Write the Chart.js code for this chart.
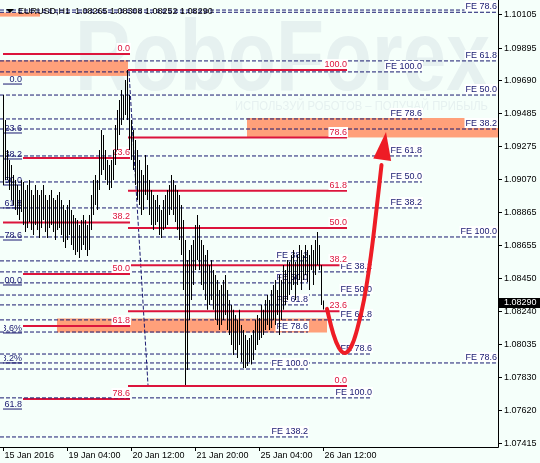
<!DOCTYPE html>
<html>
<head>
<meta charset="utf-8">
<script src="https://cdn.jsdelivr.net/npm/chart.js@4.4.1/dist/chart.umd.min.js"></script>
<style>
html,body{margin:0;padding:0;background:#f5fffa;overflow:hidden}
canvas{display:block}
</style>
</head>
<body>
<canvas id="chart" width="540" height="463" style="width:540px;height:463px"></canvas>
<script>
// ---------- DATA ----------
const symbolHeader = 'EURUSD,H1  1.08265 1.08308 1.08252 1.08290';
const lastPrice = 1.08290;
const watermarkTitle = 'RoboForex';
const watermarkSub = 'ИСПОЛЬЗУЙ РОБОТОВ – ПОЛУЧАЙ ПРИБЫЛЬ';

const timeTickBars = [0, 32, 64, 96, 128, 160];
const timeTickLabels = ['15 Jan 2016', '19 Jan 04:00', '20 Jan 12:00', '21 Jan 20:00', '25 Jan 04:00', '26 Jan 12:00'];
const priceTicks = [1.10105, 1.09895, 1.09690, 1.09485, 1.09275, 1.09070, 1.08865, 1.08655, 1.08450, 1.08240, 1.08035, 1.07830, 1.07620, 1.07415];

// hourly bars (index 0 = first visible bar)
const barHigh = [
1.09597,1.09441,1.09253,1.09190,1.09158,1.09096,1.09064,1.09033,1.09002,1.09064,
1.09052,1.09002,1.09033,1.09064,1.09002,1.08970,1.09033,1.09002,1.08970,1.09002,
1.09033,1.08970,1.08939,1.08970,1.09002,1.08952,1.08939,1.08970,1.08989,1.08939,
1.08908,1.08876,1.08908,1.08939,1.08876,1.08845,1.08826,1.08814,1.08782,1.08814,
1.08845,1.08814,1.08782,1.08845,1.08970,1.09064,1.09096,1.09064,1.09253,1.09378,
1.09347,1.09253,1.09190,1.09158,1.09190,1.09253,1.09409,1.09503,1.09566,1.09629,
1.09597,1.09691,1.09754,1.09597,1.09441,1.09378,1.09315,1.09253,1.09190,1.09127,
1.09096,1.09221,1.09158,1.09064,1.09002,1.08970,1.08939,1.08970,1.08908,1.08876,
1.08939,1.08970,1.09002,1.09033,1.09096,1.09064,1.09033,1.09002,1.08970,1.08908,
1.08814,1.08688,1.08563,1.08626,1.08657,1.08688,1.08782,1.08845,1.08782,1.08688,
1.08657,1.08594,1.08626,1.08531,1.08563,1.08500,1.08469,1.08437,1.08375,1.08406,
1.08437,1.08469,1.08375,1.08312,1.08281,1.08250,1.08218,1.08187,1.08250,1.08155,
1.08124,1.08093,1.08061,1.08074,1.08093,1.08124,1.08187,1.08218,1.08199,1.08281,
1.08250,1.08312,1.08343,1.08312,1.08375,1.08406,1.08437,1.08375,1.08469,1.08437,
1.08531,1.08500,1.08563,1.08550,1.08594,1.08626,1.08550,1.08594,1.08657,1.08626,
1.08594,1.08657,1.08626,1.08594,1.08657,1.08626,1.08688,1.08738,1.08657,1.08531,
1.08308];
const barLow = [
1.09033,1.09064,1.09064,1.09002,1.08939,1.08908,1.08876,1.08845,1.08814,1.08864,
1.08782,1.08738,1.08763,1.08801,1.08751,1.08720,1.08782,1.08751,1.08701,1.08763,
1.08814,1.08738,1.08701,1.08763,1.08782,1.08738,1.08688,1.08751,1.08763,1.08720,
1.08676,1.08638,1.08688,1.08720,1.08657,1.08626,1.08594,1.08613,1.08575,1.08626,
1.08657,1.08626,1.08588,1.08626,1.08751,1.08845,1.08908,1.08876,1.09002,1.09096,
1.09127,1.09064,1.09033,1.09002,1.09014,1.09064,1.09158,1.09253,1.09347,1.09409,
1.09441,1.09472,1.09441,1.09253,1.09190,1.09127,1.09033,1.08939,1.08908,1.08845,
1.08876,1.08970,1.08939,1.08845,1.08782,1.08751,1.08782,1.08801,1.08720,1.08701,
1.08751,1.08763,1.08782,1.08845,1.08876,1.08845,1.08801,1.08751,1.08688,1.08594,
1.08375,1.07779,1.07873,1.08187,1.08312,1.08406,1.08500,1.08563,1.08500,1.08406,
1.08375,1.08312,1.08250,1.08281,1.08312,1.08250,1.08187,1.08155,1.08124,1.08155,
1.08187,1.08218,1.08124,1.08093,1.08030,1.07967,1.07998,1.07948,1.08030,1.07923,
1.07886,1.07886,1.07898,1.07923,1.07907,1.07936,1.07998,1.08030,1.08061,1.08074,
1.08093,1.08124,1.08155,1.08124,1.08136,1.08187,1.08155,1.08218,1.08093,1.08187,
1.08250,1.08281,1.08312,1.08343,1.08375,1.08406,1.08312,1.08406,1.08437,1.08375,
1.08437,1.08469,1.08425,1.08375,1.08500,1.08406,1.08469,1.08531,1.08500,1.08281,
1.08252];

// Fibonacci retracement (left, crimson)
const fibLeftLevels = [1.09854, 1.09202, 1.08798, 1.08475, 1.08149, 1.07691];
const fibLeftNames  = ['0.0', '23.6', '38.2', '50.0', '61.8', '78.6'];
const fibLeftFrom   = [-0.25, 9.75, -0.25, 9.75, 9.75, 9.75];
const fibLeftTo     = 63.25;
// Fibonacci retracement (right, crimson)
const fibRightLevels = [1.09754, 1.09330, 1.08997, 1.08764, 1.08530, 1.08241, 1.07773];
const fibRightNames  = ['100.0', '78.6', '61.8', '50.0', '38.2', '23.6', '0.0'];
const fibRightFrom   = 62.25;
const fibRightTo     = 171.75;
// Fibonacci expansions (navy dashed)
const feLevels = [1.10130, 1.10116, 1.09811, 1.09742, 1.09597, 1.09447, 1.09384, 1.09215, 1.09052, 1.08889, 1.08707,
                  1.08557, 1.08488, 1.08419, 1.08343, 1.08281, 1.08187, 1.08111, 1.07973, 1.07917, 1.07879, 1.07698, 1.07453];
const feNames  = ['', 'FE 78.6', 'FE 61.8', 'FE 100.0', 'FE 50.0', 'FE 78.6', 'FE 38.2', 'FE 61.8', 'FE 50.0', 'FE 38.2', 'FE 100.0',
                  'FE 38.2', 'FE 38.2', 'FE 50.0', 'FE 50.0', 'FE 61.8', 'FE 61.8', 'FE 78.6', 'FE 78.6', 'FE 78.6', 'FE 100.0', 'FE 100.0', 'FE 138.2'];
const feTo     = [246.75, 246.75, 246.75, 209.25, 246.75, 209.25, 246.75, 209.25, 209.25, 209.25, 246.75,
                  152.25, 184.25, 152.25, 184.25, 152.25, 184.25, 152.25, 184.25, 246.75, 152.25, 184.25, 152.25];
const feFrom = -1.75;
// Off-screen fibo (navy, left edge)
const navyLevels = [1.09666, 1.09359, 1.09196, 1.09033, 1.08889, 1.08688, 1.08406, 1.08105, 1.07917, 1.07628];
const navyNames  = ['0.0', '23.6', '38.2', '50.0', '61.8', '78.6', '100.0', '123.6%', '138.2%', '161.8'];
const navyFrom = -0.25, navyTo = 9.25;
// Salmon zones
const zoneFrom   = [-1.75, -1.75, 121.75, 26.75];
const zoneTo     = [18.25, 62.25, 247.25, 161.75];
const zoneTop    = [1.10114, 1.09815, 1.09453, 1.08196];
const zoneBottom = [1.10089, 1.09717, 1.09331, 1.08108];
// trend line
const trendX = [62.75, 72.25];
const trendY = [1.09741, 1.07779];
// forecast arrow
const arrowX = [161.75, 164.75, 167.75, 170.75, 173.75, 176.75, 180.25, 183.75, 186.75, 189.0];
const arrowY = [1.08256, 1.08106, 1.08011, 1.07980, 1.08017, 1.08124, 1.08312, 1.08594, 1.08908, 1.09158];
const arrowTip = [191.25, 1.09365];

// ---------- STYLE ----------
const FONT = '9px "Liberation Sans", Arial, sans-serif';
const NAVY = '#191970', CRIMSON = '#dc143c', SALMON = '#ffa07a', BG = '#f5fffa', ARROW = '#ee1c25';

// ---------- DATASETS ----------
const datasets = [];
datasets.push({
  type: 'bar',
  data: barHigh.map((h, i) => ({ x: i, y: [barLow[i], h] })),
  backgroundColor: '#000', borderWidth: 0, barThickness: 1, inflateAmount: 0, order: 1
});
function hline(x1, x2, y, color, width, dash) {
  datasets.push({ type: 'line', data: [{ x: x1, y: y }, { x: x2, y: y }], borderColor: color, borderWidth: width,
    borderDash: dash || [], pointRadius: 0, tension: 0, order: 2 });
}
feLevels.forEach((l, i) => hline(feFrom, feTo[i], l, NAVY, 1, [4, 2]));
navyLevels.forEach(l => hline(navyFrom, navyTo, l, NAVY, 1));
fibLeftLevels.forEach((l, i) => hline(fibLeftFrom[i], fibLeftTo, l, CRIMSON, 2));
fibRightLevels.forEach(l => hline(fibRightFrom, fibRightTo, l, CRIMSON, 2));
datasets.push({ type: 'line', data: trendX.map((x, i) => ({ x: x, y: trendY[i] })), borderColor: NAVY, borderWidth: 1,
  borderDash: [4, 2], pointRadius: 0, tension: 0, order: 2 });
datasets.push({ type: 'line', data: arrowX.map((x, i) => ({ x: x, y: arrowY[i] })), borderColor: ARROW, borderWidth: 4,
  pointRadius: 0, tension: 0.4, borderCapStyle: 'round', order: 0 });

// ---------- PLUGINS ----------
function P(chart, x, y) { return [chart.scales.x.getPixelForValue(x), chart.scales.y.getPixelForValue(y)]; }

const backPlugin = {
  id: 'back',
  beforeDraw(chart) {
    const ctx = chart.ctx;
    ctx.save();
    ctx.fillStyle = BG; ctx.fillRect(0, 0, chart.width, chart.height);
    ctx.fillStyle = '#e6f1f0';
    ctx.font = 'bold 100px "Liberation Sans", Arial';
    const w = ctx.measureText(watermarkTitle).width;
    ctx.save(); ctx.translate(75, 90); ctx.scale(415 / w, 1); ctx.fillText(watermarkTitle, 0, 0); ctx.restore();
    ctx.font = '12px "Liberation Sans", Arial';
    const w2 = ctx.measureText(watermarkSub).width;
    ctx.save(); ctx.translate(235, 110); ctx.scale(253 / w2, 1); ctx.fillText(watermarkSub, 0, 0); ctx.restore();
    ctx.restore();
  },
  beforeDatasetsDraw(chart) {
    const ctx = chart.ctx;
    ctx.save();
    ctx.fillStyle = SALMON;
    zoneFrom.forEach((f, i) => {
      const [x1, y1] = P(chart, f, zoneTop[i]);
      const [x2, y2] = P(chart, zoneTo[i], zoneBottom[i]);
      ctx.fillRect(x1, y1, x2 - x1, y2 - y1);
    });
    ctx.restore();
  }
};

function boxedText(ctx, text, xr, ly, color) {
  if (!text) return;
  const w = ctx.measureText(text).width;
  const base = Math.round(ly) - 3;
  ctx.fillStyle = '#ffffff';
  ctx.fillRect(xr - w - 1, base - 8, w + 2, 10);
  ctx.fillStyle = color;
  ctx.fillText(text, xr, base);
}

const labelPlugin = {
  id: 'labels',
  beforeDatasetDraw(chart, args) {
    if (args.index !== 0) return;
    const ctx = chart.ctx;
    ctx.save();
    ctx.font = FONT; ctx.textAlign = 'right'; ctx.textBaseline = 'alphabetic';
    feLevels.forEach((l, i) => { const [x, y] = P(chart, feTo[i], l); boxedText(ctx, feNames[i], x, y, NAVY); });
    fibLeftLevels.forEach((l, i) => { const [x, y] = P(chart, fibLeftTo, l); boxedText(ctx, fibLeftNames[i], x, y, CRIMSON); });
    fibRightLevels.forEach((l, i) => { const [x, y] = P(chart, fibRightTo, l); boxedText(ctx, fibRightNames[i], x, y, CRIMSON); });
    ctx.save();
    ctx.beginPath(); ctx.rect(4, 0, 100, chart.height); ctx.clip();
    ctx.fillStyle = NAVY;
    navyLevels.forEach((l, i) => { const [x, y] = P(chart, navyTo, l); ctx.fillText(navyNames[i], x, Math.round(y) - 2); });
    ctx.restore();
    ctx.restore();
  },
  afterDatasetsDraw(chart) {
    const ctx = chart.ctx;
    const [bx, by] = P(chart, arrowX[arrowX.length - 1], arrowY[arrowY.length - 1]);
    const [tx, ty] = P(chart, arrowTip[0], arrowTip[1]);
    const dx = tx - bx, dy = ty - by, L = Math.hypot(dx, dy);
    const nx = -dy / L, ny = dx / L, hw = 9;
    const b2x = tx - dx / L * 28, b2y = ty - dy / L * 28;
    ctx.save();
    ctx.fillStyle = ARROW;
    ctx.beginPath();
    ctx.moveTo(tx, ty);
    ctx.lineTo(b2x + nx * hw, b2y + ny * hw);
    ctx.lineTo(b2x - nx * hw, b2y - ny * hw);
    ctx.closePath(); ctx.fill();
    ctx.restore();
  }
};

const axisPlugin = {
  id: 'axes',
  afterDraw(chart) {
    const ctx = chart.ctx, ca = chart.chartArea;
    ctx.save();
    ctx.strokeStyle = '#000'; ctx.lineWidth = 1;
    ctx.beginPath();
    ctx.moveTo(ca.right + 0.5, 0); ctx.lineTo(ca.right + 0.5, ca.bottom + 0.5); ctx.lineTo(0, ca.bottom + 0.5);
    ctx.stroke();
    ctx.font = FONT; ctx.fillStyle = '#000'; ctx.textBaseline = 'middle'; ctx.textAlign = 'left';
    priceTicks.forEach(v => {
      const y = Math.round(chart.scales.y.getPixelForValue(v)) + 0.5;
      ctx.beginPath(); ctx.moveTo(ca.right, y); ctx.lineTo(ca.right + 4, y); ctx.stroke();
      ctx.fillText(v.toFixed(5), ca.right + 6, y);
    });
    timeTickBars.forEach((b, k) => {
      const x = Math.floor(chart.scales.x.getPixelForValue(b)) + 0.5;
      ctx.beginPath(); ctx.moveTo(x, ca.bottom); ctx.lineTo(x, ca.bottom + 4); ctx.stroke();
      ctx.fillText(timeTickLabels[k], x + 1, ca.bottom + 9);
    });
    const yp = Math.round(chart.scales.y.getPixelForValue(lastPrice));
    ctx.fillStyle = '#000'; ctx.fillRect(ca.right + 1, yp - 5, 42, 10);
    ctx.fillStyle = '#fff'; ctx.fillText(lastPrice.toFixed(5), ca.right + 6, yp);
    ctx.fillStyle = '#000';
    ctx.beginPath(); ctx.moveTo(6, 9); ctx.lineTo(14, 9); ctx.lineTo(10, 13); ctx.closePath(); ctx.fill();
    ctx.textBaseline = 'alphabetic';
    ctx.fillText(symbolHeader, 18, 14);
    ctx.restore();
  }
};

new Chart(document.getElementById('chart'), {
  type: 'bar',
  data: { datasets: datasets },
  options: {
    responsive: false, animation: false, devicePixelRatio: 1, events: [],
    layout: { padding: { left: 0, top: 0, right: 42, bottom: 16 } },
    plugins: { legend: { display: false }, tooltip: { enabled: false } },
    scales: {
      x: { type: 'linear', min: -1.75, max: 247.25, display: false, offset: false },
      y: { type: 'linear', min: 1.07390, max: 1.10193, display: false }
    }
  },
  plugins: [backPlugin, labelPlugin, axisPlugin]
});
</script>
</body>
</html>
